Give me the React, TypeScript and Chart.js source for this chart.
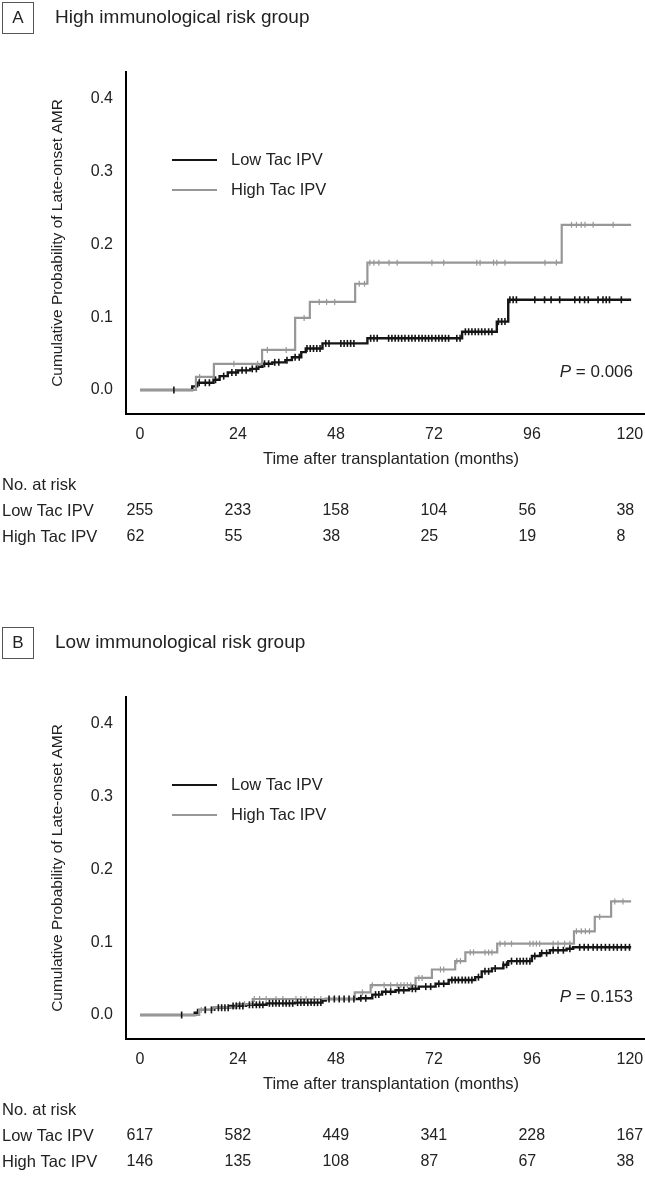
import React, { useEffect, useRef } from "react";
import { Chart, registerables } from "chart.js";

Chart.register(...registerables);

const FONT = "'Liberation Sans', Arial, sans-serif";

// ---------- shared axis data ----------
const X_TICKS = [0, 24, 48, 72, 96, 120];
const Y_TICKS = [0, 0.1, 0.2, 0.3, 0.4];
const SERIES_NAMES = ["Low Tac IPV", "High Tac IPV"];
const Y_TITLE = "Cumulative Probability of Late-onset AMR";
const X_TITLE = "Time after transplantation (months)";
const RISK_TITLE = "No. at risk";

// ---------- Panel A: High immunological risk group ----------
const A_LOW_TIME = [0, 12.8, 14, 18, 19.5, 21.5, 24, 27, 29, 30, 32.4, 35.6, 37.2, 39.5, 40.6, 44.7, 55.7, 78.9, 87.4, 90.2, 120.3];
const A_LOW_PROB = [0, 0.005, 0.01, 0.014, 0.019, 0.024, 0.027, 0.029, 0.032, 0.036, 0.038, 0.041, 0.045, 0.052, 0.057, 0.064, 0.071, 0.08, 0.094, 0.124, 0.124];
const A_HIGH_TIME = [0, 13.7, 18.1, 29.9, 38, 41.6, 52.7, 55.7, 103.3, 120.3];
const A_HIGH_PROB = [0, 0.018, 0.036, 0.055, 0.099, 0.121, 0.146, 0.175, 0.227, 0.227];
const A_LOW_CENSOR = [8.3, 14.5, 16, 17, 18.5, 20.5, 22.5, 23.5, 25, 26, 27.5, 28.5, 30.5, 31.5, 33, 34, 36, 38, 39, 40.9, 41.7, 42.5, 43.3, 44.1, 45.5, 46.3, 49.2, 50, 50.8, 51.6, 52.4, 56.5, 57.3, 58.1, 60.9, 61.7, 62.5, 63.3, 64.1, 64.9, 65.8, 66.6, 67.4, 68.3, 69.1, 69.9, 70.7, 71.5, 72.4, 73.2, 74, 74.8, 75.6, 77.6, 78.4, 79.7, 80.5, 81.3, 82.1, 82.9, 83.7, 84.5, 85.4, 86.2, 87.8, 88.6, 89.4, 90.6, 91.4, 92.2, 96.7, 99.1, 100.7, 102.8, 106.5, 107.7, 108.9, 109.8, 112.2, 113.4, 114.2, 115, 117.9];
const A_HIGH_CENSOR = [14.6, 23, 28.8, 31.2, 35.8, 40.2, 43.9, 45.7, 47.7, 53.7, 55, 56.3, 57.3, 58.5, 61, 63, 71.5, 74.4, 82.5, 83.3, 86.6, 87.4, 89.4, 99.2, 102, 105.7, 106.9, 108.1, 109, 111, 115.9];
const A_RISK_LOW = [255, 233, 158, 104, 56, 38];
const A_RISK_HIGH = [62, 55, 38, 25, 19, 8];

// ---------- Panel B: Low immunological risk group ----------
const B_LOW_TIME = [0, 13.4, 14.2, 18.2, 22, 26, 31, 38, 44.7, 45.5, 53.7, 56.9, 59.3, 62.6, 65.9, 68.3, 72.4, 75.6, 82.1, 83.7, 86.2, 89, 90.2, 96, 98, 100.4, 104.5, 106.1, 120.3];
const B_LOW_PROB = [0, 0.003, 0.007, 0.01, 0.0125, 0.014, 0.016, 0.017, 0.02, 0.022, 0.023, 0.028, 0.032, 0.034, 0.036, 0.039, 0.043, 0.048, 0.052, 0.06, 0.064, 0.069, 0.074, 0.081, 0.085, 0.089, 0.091, 0.093, 0.093];
const B_HIGH_TIME = [0, 14.5, 17.9, 23.6, 27.6, 52.6, 56.5, 67.5, 71.5, 77.2, 79.7, 87.5, 106.3, 111.4, 115.4, 120.3];
const B_HIGH_PROB = [0, 0.007, 0.01, 0.015, 0.022, 0.031, 0.041, 0.051, 0.0625, 0.074, 0.086, 0.098, 0.115, 0.135, 0.156, 0.156];
const B_LOW_CENSOR = [10.2, 16, 17.5, 19.2, 20, 20.8, 21.6, 22.8, 23.6, 24.4, 25.2, 26.8, 27.6, 28.5, 29.3, 30.1, 31.7, 32.5, 33.3, 34.1, 35, 35.8, 36.6, 37.4, 38.6, 39.4, 40.2, 41.1, 41.9, 42.7, 43.5, 44.3, 46.3, 47.6, 48.8, 50, 51.2, 52.4, 54.1, 55.3, 57.7, 58.5, 60.2, 61.4, 63.4, 64.6, 66.7, 67.5, 70, 71.2, 73.2, 74.4, 76.4, 77.2, 78, 78.9, 79.7, 80.5, 81.3, 82.9, 84.5, 85.4, 87, 89, 89.8, 91, 92.3, 93.1, 93.9, 94.7, 95.5, 96.7, 98.4, 99.6, 101.2, 102.4, 103.7, 105.3, 107.7, 108.8, 109.8, 111, 112, 113, 114, 115, 116, 116.9, 117.9, 118.9, 119.9];
const B_HIGH_CENSOR = [15, 15.8, 24.4, 25.6, 28, 29.3, 30.9, 33.3, 35, 38.2, 39.4, 40.7, 42.7, 44.3, 54.5, 56.9, 59.8, 61.4, 63, 63.9, 64.7, 65.5, 66.3, 68.3, 69.1, 73.6, 74.4, 77.6, 78.5, 80.9, 81.7, 84.5, 85.4, 86.2, 88.2, 89.4, 91, 95.5, 96.3, 97.1, 97.9, 101.2, 102.4, 104, 105.3, 106.9, 108.1, 109.1, 110.1, 112.6, 116.3, 118.3];
const B_RISK_LOW = [617, 582, 449, 341, 228, 167];
const B_RISK_HIGH = [146, 135, 108, 87, 67, 38];

const COLOR_LOW = "#151515";
const COLOR_HIGH = "#979797";
const TEXT = "#222222";

function stepValue(times: number[], probs: number[], t: number) {
  let v = probs[0];
  for (let i = 0; i < times.length; i++) {
    if (times[i] <= t) v = probs[i];
  }
  return v;
}

const decorPlugin = {
  id: "decor",
  afterDraw(chart: any, _args: any, opts: any) {
    const ctx = chart.ctx;
    const xs = chart.scales.x;
    const area = chart.chartArea;
    ctx.save();
    ctx.fillStyle = TEXT;
    ctx.textBaseline = "middle";

    // panel letter box
    ctx.strokeStyle = "#555";
    ctx.lineWidth = 1;
    ctx.strokeRect(2.5, 2.5, 31, 31);
    ctx.font = `17px ${FONT}`;
    ctx.textAlign = "center";
    ctx.fillText(opts.letter, 18, 18.5);

    // panel title
    ctx.textAlign = "left";
    ctx.font = `19px ${FONT}`;
    ctx.fillText(opts.title, 55, 18);

    // y title
    ctx.save();
    ctx.translate(58, (area.top + area.bottom) / 2);
    ctx.rotate(-Math.PI / 2);
    ctx.textAlign = "center";
    ctx.font = `15.5px ${FONT}`;
    ctx.fillText(Y_TITLE, 0, 0);
    ctx.restore();

    // x title
    ctx.textAlign = "center";
    ctx.font = `16.5px ${FONT}`;
    ctx.fillText(X_TITLE, 391, 459);

    // legend
    const legendColors = [COLOR_LOW, COLOR_HIGH];
    const legendY = [160, 190];
    ctx.font = `16.5px ${FONT}`;
    ctx.textAlign = "left";
    for (let i = 0; i < 2; i++) {
      ctx.strokeStyle = legendColors[i];
      ctx.lineWidth = 2.2;
      ctx.beginPath();
      ctx.moveTo(172, legendY[i]);
      ctx.lineTo(217, legendY[i]);
      ctx.stroke();
      ctx.fillStyle = TEXT;
      ctx.fillText(SERIES_NAMES[i], 231, legendY[i]);
    }

    // P value
    ctx.font = `17px ${FONT}`;
    const rest = " = " + opts.pValue;
    const restW = ctx.measureText(rest).width;
    ctx.font = `italic 17px ${FONT}`;
    const pW = ctx.measureText("P").width;
    const right = 633;
    ctx.fillText("P", right - restW - pW, 372);
    ctx.font = `17px ${FONT}`;
    ctx.fillText(rest, right - restW, 372);

    // risk table
    ctx.font = `16.5px ${FONT}`;
    ctx.textAlign = "left";
    ctx.fillText(RISK_TITLE, 2, 485);
    ctx.fillText(SERIES_NAMES[0], 2, 511);
    ctx.fillText(SERIES_NAMES[1], 2, 537);
    ctx.font = `16px ${FONT}`;
    X_TICKS.forEach((t, i) => {
      const px = xs.getPixelForValue(t) - 13.5;
      ctx.fillText(String(opts.riskLow[i]), px, 511);
      ctx.fillText(String(opts.riskHigh[i]), px, 537);
    });
    ctx.restore();
  },
};

type PanelProps = {
  letter: string;
  title: string;
  pValue: string;
  lowTime: number[];
  lowProb: number[];
  highTime: number[];
  highProb: number[];
  lowCensor: number[];
  highCensor: number[];
  riskLow: number[];
  riskHigh: number[];
  top: number;
};

function Panel(p: PanelProps) {
  const ref = useRef<HTMLCanvasElement | null>(null);
  useEffect(() => {
    if (!ref.current) return;
    const lowLine = p.lowTime.map((t, i) => ({ x: t, y: p.lowProb[i] }));
    const highLine = p.highTime.map((t, i) => ({ x: t, y: p.highProb[i] }));
    const lowC = p.lowCensor.map((t) => ({ x: t, y: stepValue(p.lowTime, p.lowProb, t) }));
    const highC = p.highCensor.map((t) => ({ x: t, y: stepValue(p.highTime, p.highProb, t) }));
    const chart = new Chart(ref.current, {
      type: "line",
      data: {
        datasets: [
          {
            label: "Low censor",
            data: lowC,
            showLine: false,
            pointStyle: "line",
            rotation: 90,
            pointRadius: 3.5,
            pointBorderWidth: 1.6,
            pointBorderColor: COLOR_LOW,
            borderColor: COLOR_LOW,
          },
          {
            label: "High censor",
            data: highC,
            showLine: false,
            pointStyle: "line",
            rotation: 90,
            pointRadius: 3,
            pointBorderWidth: 1.2,
            pointBorderColor: COLOR_HIGH,
            borderColor: COLOR_HIGH,
          },
          {
            label: SERIES_NAMES[1],
            data: highLine,
            stepped: "before",
            borderColor: COLOR_HIGH,
            borderWidth: 2.2,
            pointRadius: 0,
            fill: false,
          },
          {
            label: SERIES_NAMES[0],
            data: lowLine,
            stepped: "before",
            borderColor: COLOR_LOW,
            borderWidth: 2.4,
            pointRadius: 0,
            fill: false,
          },
        ],
      },
      options: {
        responsive: false,
        animation: false,
        devicePixelRatio: 1,
        events: [],
        layout: { autoPadding: false, padding: { top: 72, right: 0, left: 0, bottom: 0 } },
        plugins: {
          legend: { display: false },
          tooltip: { enabled: false },
          decor: {
            letter: p.letter,
            title: p.title,
            pValue: p.pValue,
            riskLow: p.riskLow,
            riskHigh: p.riskHigh,
          },
        } as any,
        scales: {
          x: {
            type: "linear",
            min: -3.43,
            max: 123.7,
            grid: { display: false, drawTicks: false },
            border: { display: true, color: "#000", width: 2 },
            ticks: {
              padding: 11,
              color: TEXT,
              font: { family: FONT, size: 16 },
              maxRotation: 0,
              callback: (v: any) => String(v),
            },
            afterBuildTicks: (s: any) => {
              s.ticks = X_TICKS.map((v) => ({ value: v }));
            },
            afterFit: (s: any) => {
              s.height = 625 - 414;
              s.paddingLeft = 0;
              s.paddingRight = 0;
            },
          },
          y: {
            type: "linear",
            min: -0.033,
            max: 0.437,
            grid: { display: false, drawTicks: false },
            border: { display: true, color: "#000", width: 2 },
            ticks: {
              padding: 13,
              color: TEXT,
              font: { family: FONT, size: 16 },
              callback: (v: any) => Number(v).toFixed(1),
            },
            afterBuildTicks: (s: any) => {
              s.ticks = Y_TICKS.map((v) => ({ value: v }));
            },
            afterFit: (s: any) => {
              s.width = 126;
              s.paddingTop = 0;
              s.paddingBottom = 0;
            },
          },
        },
      },
      plugins: [decorPlugin],
    } as any);
    return () => chart.destroy();
  }, []);
  return (
    <canvas
      ref={ref}
      width={645}
      height={625}
      style={{ position: "absolute", left: 0, top: p.top, width: 645, height: 625, display: "block" }}
    />
  );
}

export default function App() {
  return (
    <div
      style={{
        position: "absolute",
        left: 0,
        top: 0,
        width: 645,
        height: 1178,
        overflow: "hidden",
        background: "#fff",
      }}
    >
      <Panel
        letter="A"
        title="High immunological risk group"
        pValue="0.006"
        lowTime={A_LOW_TIME}
        lowProb={A_LOW_PROB}
        highTime={A_HIGH_TIME}
        highProb={A_HIGH_PROB}
        lowCensor={A_LOW_CENSOR}
        highCensor={A_HIGH_CENSOR}
        riskLow={A_RISK_LOW}
        riskHigh={A_RISK_HIGH}
        top={0}
      />
      <Panel
        letter="B"
        title="Low immunological risk group"
        pValue="0.153"
        lowTime={B_LOW_TIME}
        lowProb={B_LOW_PROB}
        highTime={B_HIGH_TIME}
        highProb={B_HIGH_PROB}
        lowCensor={B_LOW_CENSOR}
        highCensor={B_HIGH_CENSOR}
        riskLow={B_RISK_LOW}
        riskHigh={B_RISK_HIGH}
        top={625}
      />
    </div>
  );
}
